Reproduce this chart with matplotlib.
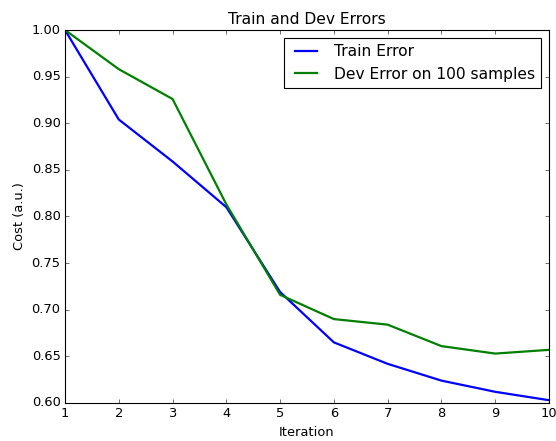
import matplotlib
matplotlib.use("Agg")
import matplotlib.pyplot as plt

plt.style.use("classic")

iterations = [1, 2, 3, 4, 5, 6, 7, 8, 9, 10]
train_error = [1.000, 0.904, 0.859, 0.810, 0.719, 0.665, 0.642, 0.624, 0.612, 0.603]
dev_error = [1.000, 0.958, 0.926, 0.813, 0.716, 0.690, 0.684, 0.661, 0.653, 0.657]

DPI = 80
fig = plt.figure(figsize=(556 / DPI, 441 / DPI), dpi=DPI, facecolor="white")
ax = fig.add_axes([65 / 556, 1 - 403 / 441, (549 - 65) / 556, (403 - 30) / 441])

ax.plot(iterations, train_error, color="b", lw=2, label="Train Error")
ax.plot(iterations, dev_error, color="g", lw=2, label="Dev Error on 100 samples")

ax.set_xlim(1, 10)
ax.set_ylim(0.60, 1.00)
ax.set_xticks(range(1, 11))
ax.set_title("Train and Dev Errors", fontsize=14)
ax.set_xlabel("Iteration", fontsize=11.7)
ax.set_ylabel("Cost (a.u.)", fontsize=11.7)
ax.tick_params(labelsize=11.7)
ax.legend(loc="upper right", fontsize=14)

fig.savefig("out.png", dpi=DPI, facecolor="white")
